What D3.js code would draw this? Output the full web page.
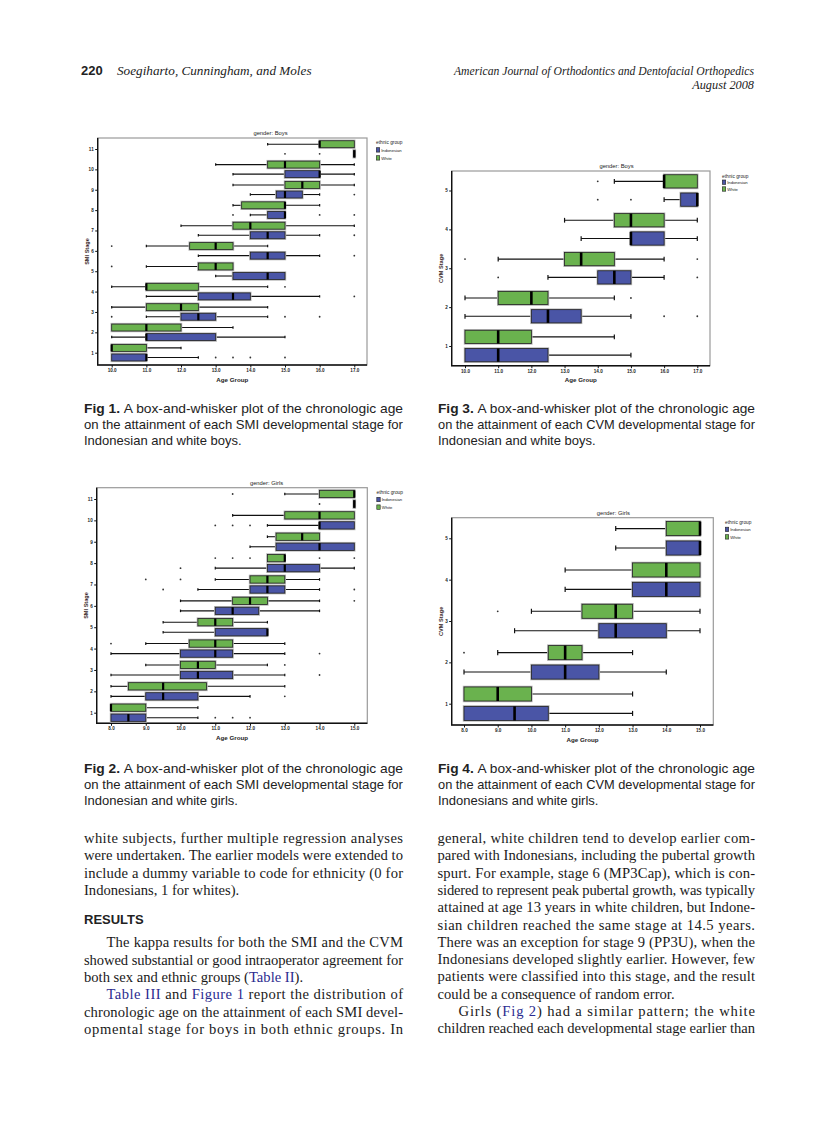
<!DOCTYPE html>
<html><head><meta charset="utf-8">
<script src="https://cdn.jsdelivr.net/npm/d3@7"></script>
<style>body{margin:0;background:#fff}</style>
</head><body>
<svg id="page" width="838" height="1122"></svg>
<script>
// ---------------- DATA ----------------
// box stats per stage (stage 1 first): [min, q1, median, q3, max]
const smiStages = [1,2,3,4,5,6,7,8,9,10,11];
const cvmStages = [1,2,3,4,5];
const boysTicks = [10,11,12,13,14,15,16,17];
const girlsTicks = [8,9,10,11,12,13,14,15];

const boysSmiIndonesian = [
  [10,10,11,11,12.5],[10,11,11,13,15],[11,12,12.5,13,14.5],[11,12.5,13.5,14,16],
  [13,13.5,14.5,15,15],[12.5,14,14.5,15,16],[12.5,14,14.5,15,16],[14,14.5,15,15,15],
  [14,14.75,15,15.5,16],[13.5,15,16,16,17],[17,17,17,17,17]];
const boysSmiIndonesianOut = [[13,13.5,14,15],[],[10,15,16],[17],[],[17],[17],[13.5,16,17],[17],[],[15,16]];
const boysSmiWhite = [
  [10,10,10,11,12],[10,10,11,12,13.5],[10,11,12,12.5,14.5],[10,11,11,12.5,14.5],
  [11,12.5,13,13.5,13.5],[11,12.25,13,13.5,14.5],[12,13.5,14,15,17],[13.5,13.75,15,15,16],
  [13.5,15,15.5,16,17],[13,14.5,15,16,17],[14.5,16,16,17,17]];
const boysSmiWhiteOut = [[],[],[],[15],[10],[10],[],[],[],[],[]];

const boysCvmIndonesian = [[10,10,11,12.5,15],[10,12,12.5,13.5,15],[12.5,14,14.5,15,16],[13.5,15,15,16,17],[16,16.5,17,17,17]];
const boysCvmIndonesianOut = [[],[16,17],[11,17],[],[14,15]];
const boysCvmWhite = [[10,10,11,12,14.5],[10,11,12,12.5,14.5],[11,13,13.5,14.5,16],[13,14.5,15,16,17],[14.5,16,16,17,17]];
const boysCvmWhiteOut = [[],[15],[10,17],[],[14]];

const girlsSmiIndonesian = [
  [8,8,8.5,9,10.5],[8,9,9.5,10.5,12],[8,10,10.5,11.5,13],[8,10,11,11.5,13],
  [9.5,11,12.5,12.5,12.5],[10,11,11.5,12.25,14],[10.5,12,12.5,13,14],[11,12.5,13,14,15],
  [12,12.75,14,15,15],[12.5,14,14,15,15],[15,15,15,15,15]];
const girlsSmiIndonesianOut = [[11,11.5,12],[13],[14],[14],[],[],[9.5,15],[10],[],[11,11.5,12],[14]];
const girlsSmiWhite = [
  [8,8,8,9,10.5],[8,8.5,9.5,10.75,13],[9,10,10.5,11,12.5],[9,10.25,11,11.5,13],
  [9.5,10.5,11,11.5,12.5],[10,11.5,12,12.5,14],[11,12,12.5,13,14],[12.5,12.5,13,13,13],
  [12.5,12.75,13.5,14,14],[11.5,13,14,15,15],[13,14,15,15,15]];
const girlsSmiWhiteOut = [[],[],[13],[8],[],[15],[9,10],[11,11.5,12,14,15],[],[],[11.5]];

const girlsCvmIndonesian = [[8,8,9.5,10.5,13],[8,10,11,12,14],[9.5,12,12.5,14,15],[11,13,14,15,15],[12.5,14,15,15,15]];
const girlsCvmIndonesianOut = [[],[],[],[],[]];
const girlsCvmWhite = [[8,8,9,10,13],[9,10.5,11,11.5,13],[10,11.5,12.5,13,15],[11,13,14,15,15],[12.5,14,15,15,15]];
const girlsCvmWhiteOut = [[],[8],[9],[],[]];

const groupNames = ["Indonesian","White"];

// ---------------- TEXT ----------------
const leftCol1 = [
  {t:"white subjects, further multiple regression analyses", j:1},
  {t:"were undertaken. The earlier models were extended to", j:1},
  {t:"include a dummy variable to code for ethnicity (0 for", j:1},
  {t:"Indonesians, 1 for whites).", j:0}];
const leftCol2 = [
  {t:"The kappa results for both the SMI and the CVM", j:1, ind:1},
  {t:"showed substantial or good intraoperator agreement for", j:1},
  {t:"both sex and ethnic groups ({Table II}).", j:0},
  {t:"{Table III} and {Figure 1} report the distribution of", j:1, ind:1},
  {t:"chronologic age on the attainment of each SMI devel-", j:1},
  {t:"opmental stage for boys in both ethnic groups. In", j:1}];
const rightCol = [
  {t:"general, white children tend to develop earlier com-", j:1},
  {t:"pared with Indonesians, including the pubertal growth", j:1},
  {t:"spurt. For example, stage 6 (MP3Cap), which is con-", j:1},
  {t:"sidered to represent peak pubertal growth, was typically", j:1},
  {t:"attained at age 13 years in white children, but Indone-", j:1},
  {t:"sian children reached the same stage at 14.5 years.", j:1},
  {t:"There was an exception for stage 9 (PP3U), when the", j:1},
  {t:"Indonesians developed slightly earlier. However, few", j:1},
  {t:"patients were classified into this stage, and the result", j:1},
  {t:"could be a consequence of random error.", j:0},
  {t:"Girls ({Fig 2}) had a similar pattern; the white", j:1, ind:1},
  {t:"children reached each developmental stage earlier than", j:1}];

const captions = [
  {x:84, x2:403, y:412.5, n:"Fig 1.", l:["A box-and-whisker plot of the chronologic age","on the attainment of each SMI developmental stage for","Indonesian and white boys."]},
  {x:438, x2:755, y:412.5, n:"Fig 3.", l:["A box-and-whisker plot of the chronologic age","on the attainment of each CVM developmental stage for","Indonesian and white boys."]},
  {x:84, x2:403, y:772.5, n:"Fig 2.", l:["A box-and-whisker plot of the chronologic age","on the attainment of each SMI developmental stage for","Indonesian and white girls."]},
  {x:438, x2:755, y:772.5, n:"Fig 4.", l:["A box-and-whisker plot of the chronologic age","on the attainment of each CVM developmental stage for","Indonesians and white girls."]}];

// ---------------- DRAW ----------------
const svg = d3.select("#page");
svg.append("rect").attr("width",838).attr("height",1122).attr("fill","#fff");
const BLUE = "#4a55a6", GREEN = "#6ab24e";
const SANS = "'Liberation Sans', Arial, sans-serif";
const SERIF = "'Liberation Serif', 'Times New Roman', serif";

function drawChart(cfg) {
  const g = svg.append("g");
  const f = cfg.frame;
  const x = d3.scaleLinear().domain(cfg.xDomain).range(cfg.xRange);
  const y = d3.scaleLinear().domain([1, cfg.stages.length]).range(cfg.yRange);
  const step = Math.abs(y(2) - y(1));
  const bh = step * 0.34, off = step * 0.235, capH = bh * 0.36;

  g.append("rect").attr("x", f[0]).attr("y", f[1]).attr("width", f[2]-f[0]).attr("height", f[3]-f[1])
    .attr("fill", "none").attr("stroke", "#9a9a9a").attr("stroke-width", 1.2);
  g.append("path").attr("d", `M${f[0]},${f[1]}V${f[3]}H${f[2]}`).attr("fill","none").attr("stroke","#111").attr("stroke-width",1.4);

  const xa = g.append("g").attr("transform", `translate(0,${f[3]})`)
    .call(d3.axisBottom(x).tickValues(cfg.ticks).tickFormat(d3.format(".1f")).tickSize(2.5).tickPadding(1.2));
  const ya = g.append("g").attr("transform", `translate(${f[0]},0)`)
    .call(d3.axisLeft(y).tickValues(cfg.stages).tickFormat(d3.format("d")).tickSize(2.5).tickPadding(1.5));
  [xa, ya].forEach(a => {
    a.select(".domain").remove();
    a.selectAll("line").attr("stroke", "#111").attr("stroke-width", 1);
    a.selectAll("text").attr("font-family", SANS).attr("font-size", 4.6).attr("font-weight", "bold").attr("fill", "#222");
  });

  const series = [
    {d: cfg.white, o: cfg.whiteOut, c: GREEN, dy: -off},
    {d: cfg.indo, o: cfg.indoOut, c: BLUE, dy: off}];
  series.forEach(s => {
    s.d.forEach((v, i) => {
      const yc = y(cfg.stages[i]) + s.dy;
      const [mn, q1, md, q3, mx] = v;
      const sg = g.append("g");
      const wl = "#111", ww = 1.1;
      if (mn < q1) {
        sg.append("line").attr("x1", x(mn)).attr("x2", x(q1)).attr("y1", yc).attr("y2", yc).attr("stroke", wl).attr("stroke-width", ww);
        sg.append("line").attr("x1", x(mn)).attr("x2", x(mn)).attr("y1", yc-capH/2).attr("y2", yc+capH/2).attr("stroke", wl).attr("stroke-width", 1.2);
      }
      if (mx > q3) {
        sg.append("line").attr("x1", x(q3)).attr("x2", x(mx)).attr("y1", yc).attr("y2", yc).attr("stroke", wl).attr("stroke-width", ww);
        sg.append("line").attr("x1", x(mx)).attr("x2", x(mx)).attr("y1", yc-capH/2).attr("y2", yc+capH/2).attr("stroke", wl).attr("stroke-width", 1.2);
      }
      const bw = Math.max(x(q3) - x(q1), 1.2);
      const bx = (q3 > q1) ? x(q1) : x(q1) - 0.6;
      sg.append("rect").attr("x", bx).attr("y", yc-bh/2).attr("width", bw).attr("height", bh)
        .attr("fill", "none").attr("stroke", "#b5b5b5").attr("stroke-width", 2.4);
      sg.append("rect").attr("x", bx).attr("y", yc-bh/2).attr("width", bw).attr("height", bh)
        .attr("fill", s.c).attr("stroke", "#222").attr("stroke-width", 0.8);
      sg.append("line").attr("x1", x(md)).attr("x2", x(md)).attr("y1", yc-bh/2).attr("y2", yc+bh/2)
        .attr("stroke", "#000").attr("stroke-width", cfg.medW);
      s.o[i].forEach(p => {
        sg.append("circle").attr("cx", x(p)).attr("cy", yc).attr("r", 0.9).attr("fill", "#333");
      });
    });
  });

  const cx = (f[0] + f[2]) / 2;
  g.append("text").attr("x", cfg.titleX).attr("y", f[1] - 3).attr("text-anchor", "middle")
    .attr("font-family", SANS).attr("font-size", 5.8).attr("fill", "#222").text(cfg.title);
  g.append("text").attr("x", cx).attr("y", f[3] + 16.5).attr("text-anchor", "middle")
    .attr("font-family", SANS).attr("font-size", 6.2).attr("font-weight", "bold").attr("fill", "#222").text("Age Group");
  const yl = cfg.yLabelX, ym = (f[1] + f[3]) / 2;
  g.append("text").attr("transform", `translate(${yl},${ym}) rotate(-90)`).attr("text-anchor", "middle")
    .attr("font-family", SANS).attr("font-size", 5.6).attr("font-weight", "bold").attr("fill", "#3a2a2a").text(cfg.yLabel);

  // legend
  const lg = g.append("g").attr("transform", `translate(${cfg.legend[0]},${cfg.legend[1]})`);
  lg.append("text").attr("x", 0).attr("y", 2).attr("font-family", SANS).attr("font-size", 4.8).attr("fill", "#222").text("ethnic group");
  [[BLUE, groupNames[0]], [GREEN, groupNames[1]]].forEach((e, k) => {
    const yy = cfg.legendStep * (k + 1);
    lg.append("rect").attr("x", 0.3).attr("y", yy - 2.3).attr("width", 3.4).attr("height", 4.4)
      .attr("fill", e[0]).attr("stroke", "#222").attr("stroke-width", 0.6);
    lg.append("text").attr("x", 5.2).attr("y", yy + 1.6).attr("font-family", SANS).attr("font-size", 4.2).attr("fill", "#222").text(e[1]);
  });
}

drawChart({frame:[97.7,138,367,365], xDomain:[10,17], xRange:[111.7,354.3], yRange:[352.7,149], stages:smiStages, ticks:boysTicks,
  white:boysSmiWhite, whiteOut:boysSmiWhiteOut, indo:boysSmiIndonesian, indoOut:boysSmiIndonesianOut,
  title:"gender: Boys", titleX:270.5, yLabel:"SMI Stage", yLabelX:88.5, legend:[376,142], legendStep:8, medW:2.2});
drawChart({frame:[451.7,171,710,365.7], xDomain:[10,17], xRange:[465,697.3], yRange:[346,190.5], stages:cvmStages, ticks:boysTicks,
  white:boysCvmWhite, whiteOut:boysCvmWhiteOut, indo:boysCvmIndonesian, indoOut:boysCvmIndonesianOut,
  title:"gender: Boys", titleX:616.5, yLabel:"CVM Stage", yLabelX:443, legend:[722,175.5], legendStep:6.8, medW:2.6});
drawChart({frame:[96.7,487.7,367.3,723.3], xDomain:[8,15], xRange:[111,354.3], yRange:[712.7,499], stages:smiStages, ticks:girlsTicks,
  white:girlsSmiWhite, whiteOut:girlsSmiWhiteOut, indo:girlsSmiIndonesian, indoOut:girlsSmiIndonesianOut,
  title:"gender: Girls", titleX:266.5, yLabel:"SMI Stage", yLabelX:88, legend:[376.5,492], legendStep:7.6, medW:2.2});
drawChart({frame:[451.7,517.7,713.3,725], xDomain:[8,15], xRange:[464,700], yRange:[703.7,538.3], stages:cvmStages, ticks:girlsTicks,
  white:girlsCvmWhite, whiteOut:girlsCvmWhiteOut, indo:girlsCvmIndonesian, indoOut:girlsCvmIndonesianOut,
  title:"gender: Girls", titleX:613.3, yLabel:"CVM Stage", yLabelX:443, legend:[725,522], legendStep:7.5, medW:2.6});

// header
svg.append("text").attr("x", 81).attr("y", 74.5).attr("font-family", SANS).attr("font-weight", "bold").attr("font-size", 13).attr("fill", "#222").text("220");
svg.append("text").attr("x", 117).attr("y", 74.5).attr("font-family", SERIF).attr("font-style", "italic").attr("font-size", 13.2).attr("fill", "#222").text("Soegiharto, Cunningham, and Moles");
svg.append("text").attr("x", 454).attr("y", 74.5).attr("font-family", SERIF).attr("font-style", "italic").attr("font-size", 12.6).attr("fill", "#222")
  .attr("textLength", 300).attr("lengthAdjust", "spacingAndGlyphs").text("American Journal of Orthodontics and Dentofacial Orthopedics");
svg.append("text").attr("x", 754).attr("y", 88.5).attr("text-anchor", "end").attr("font-family", SERIF).attr("font-style", "italic").attr("font-size", 12.3).attr("fill", "#222").text("August 2008");

// captions
captions.forEach(c => {
  c.l.forEach((line, k) => {
    const t = svg.append("text").attr("x", c.x).attr("y", c.y + k * 16).attr("font-family", SANS).attr("font-size", 13).attr("fill", "#222");
    if (k === 0) {
      t.append("tspan").attr("font-weight", "bold").text(c.n + " ");
    }
    t.append("tspan").text(line);
    if (k < 2) t.attr("textLength", c.x2 - c.x).attr("lengthAdjust", "spacingAndGlyphs");
  });
});

// body text
function writeLines(lines, x0, x1, y0, stepY, indent) {
  lines.forEach((ln, k) => {
    const xs = x0 + (ln.ind ? indent : 0);
    const t = svg.append("text").attr("x", xs).attr("y", y0 + k * stepY).attr("font-family", SERIF).attr("font-size", 14.6).attr("fill", "#1a1a1a");
    ln.t.split(/(\{[^}]+\})/).filter(s => s.length).forEach(s => {
      if (s[0] === "{") t.append("tspan").attr("fill", "#2b2b8f").text(s.slice(1, -1));
      else t.append("tspan").text(s);
    });
    if (ln.j) t.attr("textLength", x1 - xs).attr("lengthAdjust", "spacing");
  });
}
writeLines(leftCol1, 84, 403, 843, 17.3, 22.5);
svg.append("text").attr("x", 84).attr("y", 924).attr("font-family", SANS).attr("font-weight", "bold").attr("font-size", 13).attr("fill", "#222").text("RESULTS");
writeLines(leftCol2, 84, 403, 947.3, 17.3, 22.5);
writeLines(rightCol, 437.5, 755, 843, 17.3, 21);
</script>
</body></html>
